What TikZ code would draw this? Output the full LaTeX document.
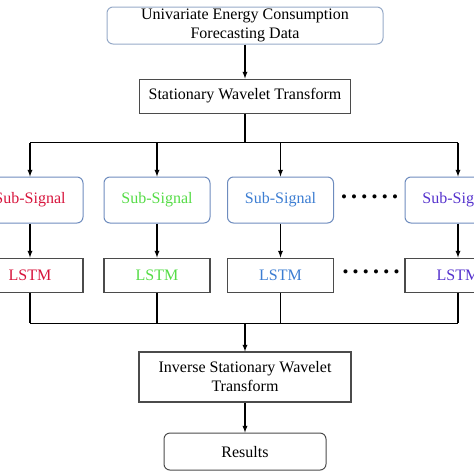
\documentclass[tikz,border=0pt]{standalone}
\usepackage{fontspec}
\setmainfont{Liberation Serif}
\usepackage{xcolor}
\usepackage{tikz}
\usetikzlibrary{shapes,positioning,arrows}
\definecolor{steel}{RGB}{110, 140, 190}
\definecolor{palesteel}{RGB}{150, 170, 200}
\definecolor{boxgray}{RGB}{75, 75, 75}
\definecolor{subred}{RGB}{215, 20, 60}
\definecolor{subgreen}{RGB}{85, 220, 70}
\definecolor{subblue}{RGB}{60, 125, 210}
\definecolor{subpurple}{RGB}{85, 50, 205}

\begin{document}
\begin{tikzpicture}[
    font=\fontsize{16}{19}\selectfont,
    rbox/.style={rectangle, rounded corners=6pt, draw=steel, line width=1pt, text centered},
    sbox/.style={rectangle, draw=boxgray, line width=1.1pt, text centered},
    sub/.style={rbox, minimum width=106pt, minimum height=46pt},
    lstm/.style={sbox, minimum width=106pt, minimum height=34pt},
    dots/.style={inner sep=0pt, font=\fontsize{17}{19}\selectfont},
    arrow/.style={-latex, black, line width=1.3pt},
    line/.style={black, line width=1.3pt},
    node distance=34pt
]
\useasboundingbox (0,0) rectangle (474pt,-474pt);

\node[rbox, draw=palesteel, minimum width=276pt, minimum height=37pt, inner sep=0pt, align=center] (data) at (245pt,-25.5pt) {Univariate Energy Consumption\\Forecasting Data};
\node[sbox, below=of data, minimum width=211pt, minimum height=34pt] (swt) {Stationary Wavelet Transform};

\node[sub, text=subred] (sub1) at (30pt,-200pt) {Sub-Signal};
\node[sub, text=subgreen] (sub2) at (157pt,-200pt) {Sub-Signal};
\node[sub, text=subblue] (sub3) at (280.5pt,-200pt) {Sub-Signal};
\node[sub, text=subpurple] (sub4) at (458pt,-200pt) {Sub-Signal};
\node[dots] (dots1) at (369.5pt,-199pt) {• • • • • •};

\node[lstm, below=of sub1, text=subred] (lstm1) {LSTM};
\node[lstm, below=of sub2, text=subgreen] (lstm2) {LSTM};
\node[lstm, below=of sub3, text=subblue] (lstm3) {LSTM};
\node[lstm, below=of sub4, text=subpurple] (lstm4) {LSTM};
\node[dots] (dots2) at (371pt,-274pt) {• • • • • •};

\node[sbox, minimum width=212pt, minimum height=50pt, align=center] (iswt) at (245pt,-377pt) {Inverse Stationary Wavelet\\Transform};
\node[rbox, draw=boxgray, below=30pt of iswt, minimum width=162pt, minimum height=37pt] (results) {Results};

% split into sub-signals
\coordinate[below=29pt of swt.south] (split);
\draw[arrow] (data) -- (swt);
\draw[line] (swt.south) -- (split);
\draw[line] (sub1 |- split) -- (sub4 |- split);
\draw[arrow] (sub1 |- split) -- (sub1.north);
\draw[arrow] (sub2 |- split) -- (sub2.north);
\draw[arrow] (sub3 |- split) -- (sub3.north);
\draw[arrow] (sub4 |- split) -- (sub4.north);

\draw[arrow] (sub1) -- (lstm1);
\draw[arrow] (sub2) -- (lstm2);
\draw[arrow] (sub3) -- (lstm3);
\draw[arrow] (sub4) -- (lstm4);

% merge back
\coordinate[above=28pt of iswt.north] (merge);
\draw[line] (lstm1.south) -- (lstm1 |- merge);
\draw[line] (lstm2.south) -- (lstm2 |- merge);
\draw[line] (lstm3.south) -- (lstm3 |- merge);
\draw[line] (lstm4.south) -- (lstm4 |- merge);
\draw[line] (lstm1 |- merge) -- (lstm4 |- merge);
\draw[arrow] (merge) -- (iswt);
\draw[arrow] (iswt) -- (results);

\end{tikzpicture}
\end{document}
